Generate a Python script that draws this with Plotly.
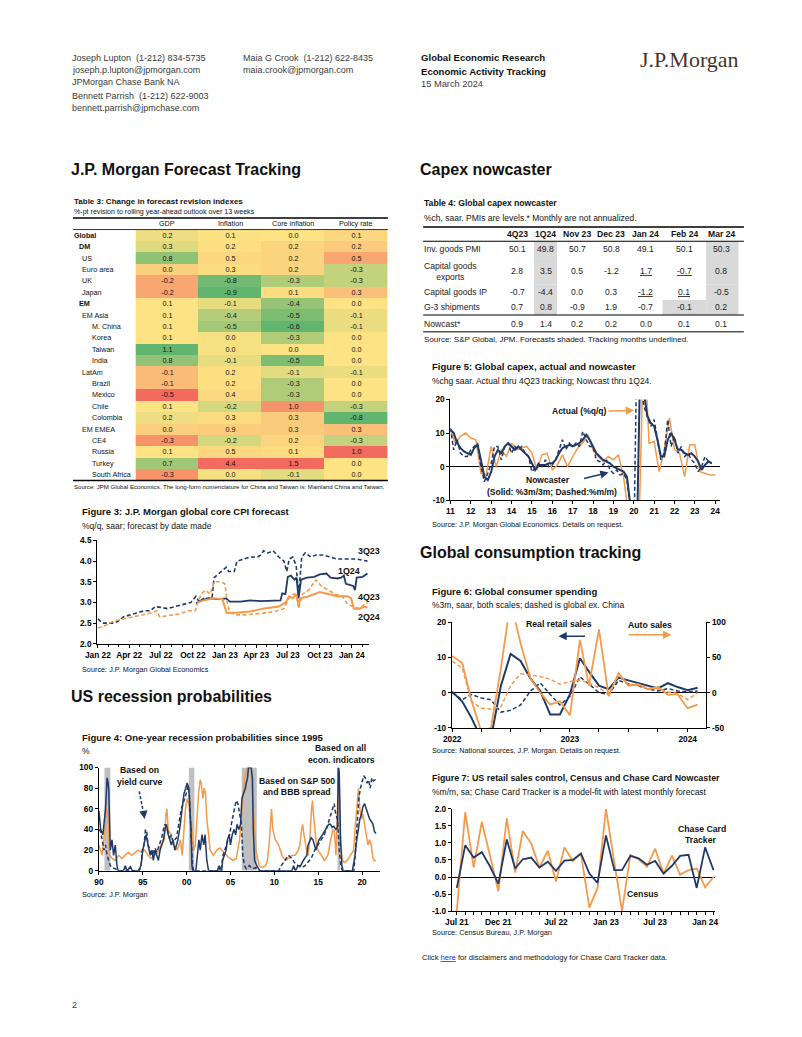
import numpy as np
import pandas as pd
import plotly.graph_objects as go

# ======================= DATA =======================
# Table 3
t3_rows = ["Global", "DM", "US", "Euro area", "UK", "Japan", "EM", "EM Asia", "M. China", "Korea",
           "Taiwan", "India", "LatAm", "Brazil", "Mexico", "Chile", "Colombia", "EM EMEA", "CE4",
           "Russia", "Turkey", "South Africa"]
t3_cols = ["GDP", "Inflation", "Core inflation", "Policy rate"]
t3_gdp = [0.2, 0.3, 0.8, 0.0, -0.2, -0.2, 0.1, 0.1, 0.1, 0.1, 1.1, 0.8, -0.1, -0.1, -0.5, 0.1, 0.2, 0.0, -0.3, 0.1, 0.7, -0.3]
t3_inflation = [0.1, 0.2, 0.5, 0.3, -0.8, -0.9, -0.1, -0.4, -0.5, 0.0, 0.0, -0.1, 0.2, 0.2, 0.4, -0.2, 0.3, 0.9, -0.2, 0.5, 4.4, 0.0]
t3_core = [0.0, 0.2, 0.2, 0.2, -0.3, 0.1, -0.4, -0.5, -0.6, -0.3, 0.0, -0.5, -0.1, -0.3, -0.3, 1.0, 0.3, 0.3, 0.2, 0.1, 1.5, -0.1]
t3_policy = [0.1, 0.2, 0.5, -0.3, -0.3, 0.3, 0.0, -0.1, -0.1, 0.0, 0.0, 0.0, -0.1, 0.0, 0.0, -0.3, -0.8, 0.3, -0.3, 1.0, 0.0, 0.0]
t3_level = [0, 1, 2, 2, 2, 2, 1, 2, 3, 3, 3, 3, 2, 3, 3, 3, 3, 2, 3, 3, 3, 3]

# Table 4
t4_cols = ["4Q23", "1Q24", "Nov 23", "Dec 23", "Jan 24", "Feb 24", "Mar 24"]
t4_rows = ["Inv. goods PMI", "Capital goods<br>exports", "Capital goods IP", "G-3 shipments", "Nowcast*"]
t4_pmi = [50.1, 49.8, 50.7, 50.8, 49.1, 50.1, 50.3]
t4_exports = [2.8, 3.5, 0.5, -1.2, 1.7, -0.7, 0.8]
t4_ip = [-0.7, -4.4, 0.0, 0.3, -1.2, 0.1, -0.5]
t4_g3 = [0.7, 0.8, -0.9, 1.9, -0.7, -0.1, 0.2]
t4_nowcast = [0.9, 1.4, 0.2, 0.2, 0.0, 0.1, 0.1]
t4_shaded = [(0, 1), (1, 1), (2, 1), (3, 1), (0, 6), (1, 6), (2, 6), (3, 6), (3, 5)]
t4_underlined = [(1, 4), (1, 5), (2, 4), (2, 5)]

# Figure 3: core CPI forecasts by date made
f3_3q23 = [("2022-01-01", 2.6), ("2022-01-15", 2.5), ("2022-02-15", 2.5), ("2022-03-01", 2.55), ("2022-03-15", 2.65),
           ("2022-04-05", 2.7), ("2022-04-25", 2.75), ("2022-05-15", 2.8), ("2022-06-01", 2.8), ("2022-06-15", 2.9),
           ("2022-07-01", 2.88), ("2022-07-20", 2.85), ("2022-08-10", 2.9), ("2022-09-05", 2.95), ("2022-09-25", 3.0),
           ("2022-10-10", 3.15), ("2022-10-20", 3.0), ("2022-11-01", 3.1), ("2022-11-25", 3.1), ("2022-12-01", 3.6),
           ("2022-12-15", 3.7), ("2023-01-05", 3.85), ("2023-01-12", 3.75), ("2023-01-28", 3.75), ("2023-02-05", 4.0),
           ("2023-02-25", 4.05), ("2023-03-15", 4.1), ("2023-04-05", 4.1), ("2023-04-15", 4.15), ("2023-04-22", 4.25),
           ("2023-05-05", 4.2), ("2023-05-20", 4.25), ("2023-06-05", 4.1), ("2023-06-20", 4.0), ("2023-06-28", 3.75),
           ("2023-07-05", 4.05), ("2023-07-15", 4.1), ("2023-07-25", 3.9), ("2023-08-01", 3.15), ("2023-08-10", 4.1),
           ("2023-08-20", 4.2), ("2023-09-05", 4.1), ("2023-09-20", 4.15), ("2023-10-10", 4.15), ("2023-11-01", 4.1),
           ("2023-11-20", 4.05), ("2023-12-15", 4.05), ("2024-01-15", 4.05), ("2024-02-15", 4.0)]
f3_1q24 = [("2022-10-10", 2.98), ("2022-10-25", 3.05), ("2022-11-15", 3.1), ("2022-12-15", 3.08), ("2023-01-05", 3.1),
           ("2023-01-15", 3.02), ("2023-02-15", 3.02), ("2023-03-15", 3.05), ("2023-04-15", 3.03), ("2023-05-15", 3.05),
           ("2023-06-10", 3.05), ("2023-06-15", 3.22), ("2023-06-24", 3.2), ("2023-07-01", 3.62), ("2023-07-10", 3.65),
           ("2023-07-20", 3.55), ("2023-07-26", 3.6), ("2023-08-01", 3.1), ("2023-08-08", 3.55), ("2023-08-25", 3.6),
           ("2023-09-15", 3.62), ("2023-10-01", 3.68), ("2023-10-20", 3.7), ("2023-11-01", 3.6), ("2023-11-20", 3.58),
           ("2023-12-01", 3.6), ("2023-12-09", 3.65), ("2023-12-15", 3.45), ("2024-01-05", 3.4), ("2024-01-10", 3.3),
           ("2024-01-15", 3.6), ("2024-02-01", 3.62), ("2024-02-15", 3.7)]
f3_4q23 = [("2022-01-01", 2.38), ("2022-01-25", 2.45), ("2022-02-15", 2.55), ("2022-03-10", 2.6), ("2022-04-10", 2.65),
           ("2022-05-10", 2.7), ("2022-06-05", 2.75), ("2022-06-20", 2.8), ("2022-06-28", 2.65), ("2022-07-20", 2.68),
           ("2022-08-20", 2.72), ("2022-09-20", 2.8), ("2022-10-08", 2.8), ("2022-10-15", 3.0), ("2022-10-25", 3.2),
           ("2022-11-05", 3.3), ("2022-11-20", 3.2), ("2022-12-01", 3.5), ("2022-12-20", 3.5), ("2023-01-01", 3.45),
           ("2023-01-08", 3.0), ("2023-01-15", 2.75), ("2023-02-05", 2.7), ("2023-03-01", 2.7), ("2023-04-01", 2.72),
           ("2023-05-01", 2.75), ("2023-06-01", 2.8), ("2023-06-20", 2.85), ("2023-07-01", 3.05), ("2023-07-15", 3.2),
           ("2023-07-25", 3.2), ("2023-08-01", 2.85), ("2023-08-12", 3.2), ("2023-08-30", 3.3), ("2023-09-20", 3.55),
           ("2023-10-05", 3.4), ("2023-10-25", 3.3), ("2023-11-15", 3.2), ("2023-12-05", 3.15), ("2023-12-20", 2.95),
           ("2024-01-05", 2.9), ("2024-01-25", 2.85), ("2024-02-05", 2.95), ("2024-02-15", 3.0)]
f3_2q24 = [("2022-10-15", 3.0), ("2022-11-01", 3.05), ("2022-12-01", 3.1), ("2022-12-25", 3.08), ("2023-01-06", 2.75),
           ("2023-02-01", 2.75), ("2023-03-15", 2.78), ("2023-04-20", 2.85), ("2023-06-05", 2.9), ("2023-06-25", 3.0),
           ("2023-07-05", 3.15), ("2023-07-15", 3.1), ("2023-07-25", 3.2), ("2023-08-01", 2.95), ("2023-08-06", 3.1),
           ("2023-08-30", 3.15), ("2023-10-01", 3.25), ("2023-10-25", 3.2), ("2023-11-20", 3.15), ("2023-12-20", 3.15),
           ("2023-12-30", 3.1), ("2024-01-07", 2.85), ("2024-01-25", 2.85), ("2024-02-05", 2.9), ("2024-02-15", 2.88)]
f3_ticks = ["2022-01-01", "2022-04-01", "2022-07-01", "2022-10-01", "2023-01-01", "2023-04-01", "2023-07-01", "2023-10-01", "2024-01-01"]
f3_ticktext = ["Jan 22", "Apr 22", "Jul 22", "Oct 22", "Jan 23", "Apr 23", "Jul 23", "Oct 23", "Jan 24"]

# Figure 4: recession probabilities (x in chart years)
f4_econ = [(1990.0, 58), (1990.2, 40), (1990.45, 35), (1990.65, 55), (1990.75, 60), (1990.93, 90), (1991.05, 85), (1991.12, 78),
           (1991.3, 20), (1991.49, 30), (1991.67, 15), (1991.86, 25), (1992.05, 5), (1992.2, 0), (1992.8, 0), (1993.0, 5),
           (1993.2, 0), (1993.6, 4), (1993.8, 0), (1994.5, 0), (1994.8, 5), (1995.0, 20), (1995.22, 30), (1995.37, 35),
           (1995.6, 25), (1995.85, 15), (1996.05, 20), (1996.2, 10), (1996.4, 20), (1996.6, 15), (1996.78, 10), (1996.97, 20),
           (1997.15, 25), (1997.35, 30), (1997.53, 40), (1997.7, 45), (1997.9, 35), (1998.1, 30), (1998.26, 25), (1998.45, 30),
           (1998.65, 20), (1998.85, 25), (1999.0, 30), (1999.2, 40), (1999.4, 55), (1999.6, 65), (1999.7, 75), (1999.9, 80),
           (2000.06, 85), (2000.25, 80), (2000.4, 60), (2000.5, 40), (2000.6, 5), (2000.7, 0), (2001.05, 0), (2001.2, 15),
           (2001.4, 30), (2001.55, 20), (2001.75, 35), (2001.95, 25), (2002.1, 35), (2002.3, 10), (2002.5, 0), (2003.5, 0),
           (2003.7, 5), (2003.85, 0), (2004.0, 0), (2004.1, 10), (2004.3, 15), (2004.5, 20), (2004.65, 30), (2004.85, 35),
           (2005.0, 25), (2005.2, 35), (2005.4, 40), (2005.6, 35), (2005.75, 45), (2005.95, 40), (2006.15, 45), (2006.3, 70),
           (2006.5, 75), (2006.7, 80), (2006.8, 85), (2006.95, 90), (2007.05, 100), (2007.35, 100), (2007.5, 90), (2007.6, 40),
           (2007.75, 10), (2008.0, 5), (2008.35, 0), (2012.0, 0), (2012.2, 5), (2012.4, 0), (2012.7, 5), (2013.0, 5),
           (2013.3, 10), (2013.7, 15), (2013.85, 25), (2014.05, 30), (2014.2, 32), (2014.4, 30), (2014.55, 25), (2014.75, 20),
           (2014.9, 25), (2015.1, 30), (2015.5, 35), (2015.85, 40), (2016.2, 45), (2016.4, 45), (2016.6, 42), (2016.8, 43),
           (2017.0, 40), (2017.2, 42), (2017.3, 100), (2017.4, 95), (2017.55, 30), (2017.7, 5), (2017.85, 0), (2018.9, 0),
           (2019.0, 5), (2019.2, 15), (2019.4, 30), (2019.56, 40), (2019.75, 50), (2019.94, 55), (2020.1, 62), (2020.3, 65),
           (2020.5, 60), (2020.7, 55), (2020.87, 50), (2021.05, 48), (2021.25, 45), (2021.42, 38), (2021.6, 36)]
f4_yield = [(1990.0, 40), (1990.2, 38), (1990.37, 30), (1990.56, 20), (1990.75, 25), (1990.93, 15), (1991.12, 10), (1991.3, 5),
            (1991.5, 3), (1991.86, 2), (1992.2, 0), (1994.6, 0), (1994.8, 5), (1994.95, 20), (1995.15, 25), (1995.3, 40),
            (1995.45, 38), (1995.6, 25), (1995.85, 20), (1996.05, 15), (1996.2, 18), (1996.4, 22), (1996.6, 18), (1996.78, 22),
            (1996.97, 28), (1997.15, 32), (1997.35, 40), (1997.53, 45), (1997.7, 42), (1997.9, 35), (1998.1, 30), (1998.26, 35),
            (1998.45, 28), (1998.65, 30), (1998.85, 32), (1999.0, 40), (1999.2, 50), (1999.4, 60), (1999.6, 65), (1999.8, 70),
            (1999.95, 75), (2000.1, 80), (2000.2, 82), (2000.3, 75), (2000.45, 50), (2000.55, 20), (2000.67, 5), (2000.8, 0),
            (2003.8, 0), (2004.0, 5), (2004.15, 15), (2004.35, 20), (2004.55, 25), (2004.7, 30), (2004.9, 35), (2005.1, 45),
            (2005.3, 55), (2005.5, 62), (2005.65, 68), (2005.85, 65), (2006.05, 55), (2006.25, 45), (2006.4, 15), (2006.6, 5),
            (2006.8, 2), (2007.15, 5), (2007.5, 2), (2007.9, 3), (2008.25, 0), (2010.5, 0), (2010.8, 5), (2011.2, 10),
            (2011.6, 15), (2012.0, 12), (2012.3, 8), (2012.7, 5), (2013.1, 3), (2013.5, 5), (2013.85, 8), (2014.2, 12),
            (2014.6, 20), (2014.97, 25), (2015.35, 30), (2015.7, 35), (2016.1, 45), (2016.46, 55), (2016.65, 60), (2016.83, 65),
            (2017.0, 55), (2017.2, 50), (2017.4, 20), (2017.58, 5), (2017.75, 0), (2019.07, 0), (2019.26, 20), (2019.44, 50),
            (2019.63, 70), (2019.82, 80), (2020.0, 85), (2020.19, 92), (2020.38, 90), (2020.56, 85), (2020.75, 88), (2020.93, 80),
            (2021.12, 90), (2021.3, 87), (2021.5, 88), (2021.68, 86)]
f4_markets = [(1990.0, 25), (1990.2, 20), (1990.37, 15), (1990.56, 30), (1990.75, 50), (1990.86, 60), (1991.0, 55), (1991.12, 30),
              (1991.23, 15), (1991.5, 12), (1991.86, 10), (1992.25, 15), (1992.6, 12), (1992.98, 15), (1993.35, 18), (1993.73, 15),
              (1994.1, 18), (1994.47, 20), (1994.85, 18), (1995.2, 20), (1995.6, 15), (1995.97, 12), (1996.34, 15), (1996.72, 18),
              (1997.09, 25), (1997.46, 30), (1997.64, 55), (1997.75, 60), (1997.9, 40), (1998.2, 35), (1998.57, 25), (1998.94, 20),
              (1999.3, 30), (1999.5, 15), (1999.7, 40), (1999.87, 60), (2000.06, 70), (2000.25, 65), (2000.43, 50), (2000.6, 40),
              (2000.8, 20), (2000.99, 25), (2001.17, 50), (2001.36, 75), (2001.55, 88), (2001.66, 85), (2001.85, 70), (2002.0, 80),
              (2002.15, 75), (2002.3, 50), (2002.5, 35), (2002.68, 20), (2003.05, 15), (2003.43, 20), (2003.8, 22), (2004.17, 18),
              (2004.54, 15), (2004.92, 12), (2005.29, 10), (2005.66, 12), (2006.04, 30), (2006.22, 50), (2006.41, 70), (2006.6, 90),
              (2006.78, 95), (2006.97, 100), (2007.34, 100), (2007.52, 70), (2007.71, 40), (2007.9, 20), (2008.27, 5), (2008.64, 3),
              (2009.0, 5), (2009.2, 10), (2009.4, 25), (2009.57, 55), (2009.68, 60), (2009.83, 40), (2010.13, 30), (2010.5, 25),
              (2010.7, 20), (2010.87, 15), (2011.25, 10), (2011.62, 12), (2011.99, 15), (2012.37, 15), (2012.74, 20), (2012.9, 25),
              (2013.11, 40), (2013.23, 45), (2013.38, 35), (2013.67, 20), (2013.86, 15), (2014.05, 30), (2014.24, 60), (2014.35, 68),
              (2014.46, 55), (2014.6, 40), (2014.8, 25), (2014.98, 20), (2015.35, 15), (2015.73, 10), (2016.1, 15), (2016.47, 30),
              (2016.66, 40), (2016.85, 38), (2017.03, 15), (2017.2, 60), (2017.28, 100), (2017.4, 80), (2017.55, 30), (2017.75, 10),
              (2017.95, 8), (2018.3, 10), (2018.7, 15), (2019.04, 20), (2019.2, 40), (2019.4, 60), (2019.5, 65), (2019.6, 80),
              (2019.75, 60), (2019.94, 50), (2020.1, 55), (2020.3, 45), (2020.5, 35), (2020.68, 25), (2020.87, 30), (2021.05, 25),
              (2021.25, 12), (2021.42, 10), (2021.6, 10)]
f4_recessions = [(1990.63, 1991.30), (2000.25, 2000.88), (2006.29, 2008.0), (2017.2, 2017.5)]
f4_ticks = [1990, 1995, 2000, 2005, 2010, 2015, 2020]
f4_ticktext = ["90", "95", "00", "05", "10", "15", "20"]

# Figure 5: capex actual (quarterly from 1Q11) and nowcaster (every 2 months from Jan 11)
f5_actual = [11, 7, 9, 10, 8.5, 8, -2, -2.5, 6, 0, 5, 3, 7, 5, 5.5, 6, 4, -1, 3.5, 4, -1, 0.5, 3.5, 0, 3, 5.5, 7,
             9.5, 5, 3, 1.5, 3, 2, 3.5, -3, -15, -25, -20, 40, 7, 7.5, -1.5, 5, 14.5, 5, 4, -3, 6.5, 6.5, -1.5, -2, -2.5, -2.5]
f5_3m3m = [11, 10, 7, 5.5, 4.5, 4, 3.5, 5.5, 6.5, 2, -3, -4, -1.5, 3, 5, 4, 6, 7, 6, 5, 6, 5, 4, 3, 1, -1, 0.5, 0.5,
           0.5, 1, 1, 2, 4, 5.5, 6, 6.5, 6, 6.5, 7, 8, 9.5, 8, 6, 4, 3, 2, 1.5, 1, 0, -0.5, -1, -1.5, -3, -10, -20, -18,
           35, 22, 15, 13, 12, 8, 3, 3, 8, 10, 8, 5, 5, 4, 3.5, 4, 3, 1.5, -1, 0.5, 1.5, 1]
f5_mm = [11.5, 5, 8, 4, 3, 3, 5, 6, 7, 0, -4.5, -2, 1, 6, 6, 2, 6, 7, 4, 6, 5, 6, 4, 3, -1.5, -0.5, 1, 0, 2, 0,
         0.5, 2, 5, 8, 5, 7, 6, 7, 6, 10.5, 8, 6, 6, 2, 1.5, 0.5, 2, -1, -2, -1, -2.5, -2, -4, -12, -25, 40, 25, 18,
         15, 12, 14, 8, 2, 4, 14, 6, 9, 4, 6, 3, 4, 2, 1, -1.5, 0, 3, 1.5, 1]
f5_years = list(range(2011, 2025))

# Figure 6: consumer spending, monthly Jan 2022 - Feb 2024
f6_retail = [0.3, -2.5, -7, -13, -13, 2, 11, 9, 4, 0.5, -6.2, -6.2, -0.5, 9.8, 6, 2, 1, 4.3, 3.5, 2.8, 2, 1.2, 2.7, 1.6, 0.7, 1.4]
f6_retail_xchina = [0, -2, -0.5, -1.5, -2, -5.5, -5, -3.5, 0.5, 2.8, -0.5, -3.5, -1, 4.5, 2.5, 0, -0.5, 3.5, 2.5, 2, 1, 0.5, 1.2, 0.5, 0.2, 0.5]
f6_auto = [52, 42, -10, -55, -50, 35, 130, 70, 20, 0, -17, -12, -32, 75, 10, 90, -5, 28, 10, 12, 5, 8, -3, -2, -22, -17]
f6_auto_xchina = [45, 35, -12, -22, -23, -20, 10, 27, 25, 23, 19, 12, 16, 18, 14, 7, -2, 25, 12, 10, 6, 6, 1, -1, -10, 0]

# Figure 7: US retail sales control, monthly Jul 2021 - Feb 2024
f7_chase = [-0.32, 0.93, 0.57, 0.73, 0.3, -0.2, 1.1, 0.25, 0.52, 0.57, 0.28, 0.45, 0.18, 0.48, 0.5, 0.69, 0.1, -0.17,
            1.22, 0.2, 0.2, 0.62, 0.55, 0.36, 0.47, 0.1, 0.33, 0.62, 0.65, -0.32, 0.87, 0.2]
f7_census = [-1.0, 1.9, 0.28, 1.62, 0.6, -0.42, 1.72, 0.13, 1.35, 0.98, 0.28, 0.77, -0.13, 0.87, 0.47, 0.68, -0.9, -0.32,
             2.0, 0.45, -1.0, 0.65, 0.52, 0.3, 0.83, 0.1, 0.63, 0.07, 0.2, 0.25, -0.3, 0.0]
f7_ticks = ["2021-07-01", "2021-12-01", "2022-07-01", "2023-01-01", "2023-07-01", "2024-01-01"]
f7_ticktext = ["Jul 21", "Dec 21", "Jul 22", "Jan 23", "Jul 23", "Jan 24"]

# ======================= STYLE / LAYOUT =======================
# The page body keeps the browser's default 8px margin, so the figure is made
# 16px narrower/shorter than the window and page positions are offset by 8px.
PAGE_MARGIN = 8
W, H = 802 - 2 * PAGE_MARGIN, 1037 - 2 * PAGE_MARGIN
FONT = "Liberation Sans, Arial, Helvetica, sans-serif"
SERIF = "Liberation Serif, Times New Roman, serif"
NAVY = "#1F3A68"
ORANGE = "#F5994A"
INK = "#111111"
GREY_TXT = "#3a3a3a"
RED, YEL, GRN = "#F26B5E", "#FDE383", "#62B56F"
DASH = "4px,2.5px"


def px(x):
    return (x - PAGE_MARGIN) / W


def py(y):
    return 1 - (y - PAGE_MARGIN) / H


def dom_x(a, b):
    return [px(a), px(b)]


def dom_y(top, bottom):
    return [py(bottom), py(top)]


ann = []
shapes = []


def txt(s, x, y, size, bold=False, color=INK, xanchor="left", yanchor="middle", xref="paper", yref="paper", family=FONT):
    if bold:
        s = "<b>" + s + "</b>"
    ann.append(dict(text=s, x=px(x) if xref == "paper" else x, y=py(y) if yref == "paper" else y,
                    xref=xref, yref=yref, xanchor=xanchor, yanchor=yanchor, showarrow=False,
                    font=dict(family=family, size=size, color=color), borderpad=0))


def arrow(x0, y0, x1, y1, color, width=1.3):
    ann.append(dict(text="", x=px(x1), y=py(y1), xref="paper", yref="paper", ax=x0 - x1, ay=y0 - y1,
                    showarrow=True, arrowhead=2, arrowsize=1.1, arrowwidth=width, arrowcolor=color,
                    standoff=0, startstandoff=0))


def hline(x0, x1, y, width=1, color="black"):
    shapes.append(dict(type="line", xref="paper", yref="paper", x0=px(x0), x1=px(x1), y0=py(y), y1=py(y),
                       line=dict(color=color, width=width)))


def fmt(v):
    return f"{v:.1f}"


def axstyle(**kw):
    d = dict(showgrid=False, zeroline=False, showline=True, linecolor="black", linewidth=1,
             ticks="outside", ticklen=3, tickcolor="black", tickwidth=1,
             tickfont=dict(family=FONT, size=8.3, color="black", weight="bold"), fixedrange=True)
    d.update(kw)
    return d


fig = go.Figure()

# ---------------- Header ----------------
hdr = 9
txt("Joseph Lupton  (1-212) 834-5735", 60, 53, hdr, color=GREY_TXT)
txt("joseph.p.lupton@jpmorgan.com", 60, 65.5, hdr, color=GREY_TXT)
txt("JPMorgan Chase Bank NA", 60, 77.5, hdr, color=GREY_TXT)
txt("Bennett Parrish  (1-212) 622-9003", 60, 91.5, hdr, color=GREY_TXT)
txt("bennett.parrish@jpmchase.com", 60, 103.5, hdr, color=GREY_TXT)
txt("Maia G Crook  (1-212) 622-8435", 234, 53, hdr, color=GREY_TXT)
txt("maia.crook@jpmorgan.com", 234, 65.5, hdr, color=GREY_TXT)
txt("Global Economic Research", 416, 53, 9.6, bold=True)
txt("Economic Activity Tracking", 416, 67, 9.6, bold=True)
txt("15 March 2024", 416, 80, 9.3, color=GREY_TXT)
txt("J.P.Morgan", 639, 55, 22, color="#45362c", family=SERIF)

# ---------------- Section titles ----------------
txt("J.P. Morgan Forecast Tracking", 59, 166, 16, bold=True)
txt("Capex nowcaster", 415, 166, 16, bold=True)
txt("US recession probabilities", 59, 698, 16, bold=True)
txt("Global consumption tracking", 415, 553, 16, bold=True)

# ---------------- Table 3 (heatmap, colour scale per column) ----------------
txt("Table 3: Change in forecast revision indexes", 62, 198, 8, bold=True)
txt("%-pt revision to rolling year-ahead outlook over 13 weeks", 62, 208.5, 7.1)
hline(62, 383, 215, 1.5)
hline(62, 383, 226.7, 0.8)
hline(62, 383, 480, 1.5)
for c in t3_cols:
    txt(c, c, 220.8, 7.2, xanchor="center", xref="x")


def col_score(vals, high_good):
    # Excel-style 3-colour scale: min -> red, median -> yellow, max -> green (or reversed)
    v = np.array(vals, dtype=float)
    lo, hi, med = v.min(), v.max(), np.median(v)
    s = np.where(v >= med, 0.5 + 0.5 * (v - med) / (hi - med), 0.5 * (v - lo) / (med - lo))
    return s if high_good else 1 - s


t3_columns = [t3_gdp, t3_inflation, t3_core, t3_policy]
t3_high_good = [True, False, False, False]
t3_z = np.column_stack([col_score(v, g) for v, g in zip(t3_columns, t3_high_good)])
t3_text = [[fmt(col[i]) for col in t3_columns] for i in range(len(t3_rows))]
fig.add_trace(go.Heatmap(
    z=t3_z, x=t3_cols, y=t3_rows, zmin=0, zmax=1,
    colorscale=[[0, RED], [0.5, YEL], [1, GRN]], showscale=False,
    text=t3_text, texttemplate="%{text}", textfont=dict(family=FONT, size=7.2, color=INK),
    xaxis="x", yaxis="y", hoverinfo="skip"))

indent_px = {0: 62.5, 1: 67.5, 2: 70.5, 3: 80}
for name, lvl in zip(t3_rows, t3_level):
    txt(name, indent_px[lvl], name, 7.2, bold=(lvl <= 1), xref="paper", yref="y")
txt("Source: JPM Global Economics. The long-form nomenclature for China and Taiwan is: Mainland China and Taiwan.",
    62, 486, 6.1)

# ---------------- Table 4 ----------------
txt("Table 4: Global capex nowcaster", 419, 200, 8.6, bold=True)
txt("%ch, saar. PMIs are levels.* Monthly are not annualized.", 419, 215.5, 8.5)
t4_col_x = [515, 544, 576, 611, 646, 685, 723]
t4_col_edges = [(498, 532), (532, 555.5), (556, 595), (595, 628), (628, 663), (663, 707.5), (707.5, 740.5)]
t4_row_y = [246.8, 269, 289.8, 305, 321.7]
t4_row_edges = [(238.5, 255.5), (255.5, 282), (282, 297.8), (297.8, 313), (313, 330)]
for (r, c) in t4_shaded:
    shapes.append(dict(type="rect", xref="paper", yref="paper", layer="below",
                       x0=px(t4_col_edges[c][0]), x1=px(t4_col_edges[c][1]),
                       y0=py(t4_row_edges[r][1]), y1=py(t4_row_edges[r][0]),
                       fillcolor="#D9D9D9", line=dict(width=0)))
hline(419, 746, 224, 1.5)
hline(419, 746, 238.5, 1.2)
hline(419, 746, 313, 1)
hline(419, 746, 330, 1)
for c, xc in zip(t4_cols, t4_col_x):
    txt(c, xc, 231.5, 8.6, bold=True, xanchor="center")
t4_data = [t4_pmi, t4_exports, t4_ip, t4_g3, t4_nowcast]
for r, (lab, vals) in enumerate(zip(t4_rows, t4_data)):
    txt(lab, 419, t4_row_y[r], 8.6, color="#222")
    for c, v in enumerate(vals):
        s = fmt(v)
        if (r, c) in t4_underlined:
            s = "<u>" + s + "</u>"
        txt(s, t4_col_x[c], t4_row_y[r], 8.6, color="#222", xanchor="center")
txt("Source: S&amp;P Global, JPM. Forecasts shaded. Tracking months underlined.", 419, 337.5, 8)

# ---------------- Figure 3 ----------------
txt("Figure 3: J.P. Morgan global core CPI forecast", 70, 511.7, 9.5, bold=True)
txt("%q/q, saar; forecast by date made", 70, 526, 8.5)
for data, color, dash, wdt in [(f3_3q23, NAVY, DASH, 1.6), (f3_1q24, NAVY, "solid", 1.8),
                               (f3_4q23, ORANGE, DASH, 1.6), (f3_2q24, ORANGE, "solid", 2.0)]:
    xs, ys = zip(*data)
    fig.add_trace(go.Scatter(x=list(xs), y=list(ys), mode="lines", line=dict(color=color, width=wdt, dash=dash),
                             xaxis="x2", yaxis="y2", hoverinfo="skip"))
txt("3Q23", 364, 551.7, 8.9, bold=True, xanchor="center")
txt("1Q24", 343, 571.7, 8.9, bold=True, xanchor="center")
txt("4Q23", 364, 597.3, 8.9, bold=True, xanchor="center")
txt("2Q24", 364, 618.3, 8.9, bold=True, xanchor="center")
txt("Source: J.P. Morgan Global Economics", 70, 670.7, 7.3)

# ---------------- Figure 4 ----------------
txt("Figure 4: One-year recession probabilities since 1995", 70, 739.3, 9.5, bold=True)
txt("%", 70, 753, 8.5)
for (a, b) in f4_recessions:
    shapes.append(dict(type="rect", xref="x3", yref="y3", x0=a, x1=b, y0=0, y1=100, layer="below",
                       fillcolor="#BFBFBF", line=dict(width=0)))
for data, color, dash in [(f4_markets, ORANGE, "solid"), (f4_yield, NAVY, DASH), (f4_econ, NAVY, "solid")]:
    xs, ys = zip(*data)
    fig.add_trace(go.Scatter(x=list(xs), y=list(ys), mode="lines", line=dict(color=color, width=1.5, dash=dash),
                             xaxis="x3", yaxis="y3", hoverinfo="skip"))
txt("Based on", 130.3, 772.7, 8.7, bold=True, xanchor="center")
txt("yield curve", 130.7, 785, 8.7, bold=True, xanchor="center")
txt("Based on all", 335, 750, 8.7, bold=True, xanchor="center")
txt("econ. indicators", 335.7, 762.3, 8.7, bold=True, xanchor="center")
txt("Based on S&amp;P 500", 290, 783.3, 8.7, bold=True, xanchor="center")
txt("and BBB spread", 290.7, 795, 8.7, bold=True, xanchor="center")
shapes.append(dict(type="line", xref="paper", yref="paper", x0=px(129.5), y0=py(794), x1=px(134), y1=py(816),
                   line=dict(color=NAVY, width=1.5, dash="3px,2px")))
arrow(134, 815, 135, 822, NAVY, 1.5)
txt("Source: J.P. Morgan", 70, 898.3, 7.3)

# ---------------- Figure 5 ----------------
txt("Figure 5: Global capex, actual and nowcaster", 426.7, 365, 9.5, bold=True)
txt("%chg saar. Actual thru 4Q23 tracking; Nowcast thru 1Q24.", 426.7, 379.3, 8.5)
f5_q_dates = pd.date_range("2011-01-01", periods=len(f5_actual), freq="QS")
f5_m_dates = pd.date_range("2011-01-01", periods=len(f5_3m3m), freq="2MS")
fig.add_trace(go.Scatter(x=f5_q_dates, y=f5_actual, mode="lines", line=dict(color=ORANGE, width=1.5),
                         xaxis="x4", yaxis="y4", hoverinfo="skip"))
fig.add_trace(go.Scatter(x=f5_m_dates, y=f5_mm, mode="lines", line=dict(color=NAVY, width=1.5, dash=DASH),
                         xaxis="x4", yaxis="y4", hoverinfo="skip"))
fig.add_trace(go.Scatter(x=f5_m_dates, y=f5_3m3m, mode="lines", line=dict(color=NAVY, width=2),
                         xaxis="x4", yaxis="y4", hoverinfo="skip"))
txt("Actual (%q/q)", 578.3, 410, 8.5, bold=True, xanchor="center")
arrow(607, 410, 634, 409.5, ORANGE, 1.5)
txt("Nowcaster", 546.7, 480, 8.5, bold=True, xanchor="center")
txt("(Solid: %3m/3m; Dashed:%m/m)", 550, 491.7, 8.5, bold=True, xanchor="center")
arrow(582, 478.5, 608, 472, NAVY, 1.5)
txt("Source: J.P. Morgan Global Economics. Details on request.", 426.7, 525, 7.3)

# ---------------- Figure 6 ----------------
txt("Figure 6: Global consumer spending", 426.7, 592.7, 9.5, bold=True)
txt("%3m, saar, both scales; dashed is global ex. China", 426.7, 606, 8.5)
f6_dates = pd.date_range("2022-01-01", periods=len(f6_retail), freq="MS")
fig.add_trace(go.Scatter(x=f6_dates, y=f6_auto_xchina, mode="lines", line=dict(color=ORANGE, width=1.5, dash=DASH),
                         xaxis="x5", yaxis="y6", hoverinfo="skip"))
fig.add_trace(go.Scatter(x=f6_dates, y=f6_auto, mode="lines", line=dict(color=ORANGE, width=1.8),
                         xaxis="x5", yaxis="y6", hoverinfo="skip"))
fig.add_trace(go.Scatter(x=f6_dates, y=f6_retail_xchina, mode="lines", line=dict(color=NAVY, width=1.5, dash=DASH),
                         xaxis="x5", yaxis="y5", hoverinfo="skip"))
fig.add_trace(go.Scatter(x=f6_dates, y=f6_retail, mode="lines", line=dict(color=NAVY, width=2),
                         xaxis="x5", yaxis="y5", hoverinfo="skip"))
txt("Real retail sales", 557.5, 625, 8.7, bold=True, xanchor="center")
arrow(585, 637.3, 557, 637.3, NAVY, 1.5)
txt("Auto sales", 650, 626, 8.7, bold=True, xanchor="center")
arrow(628, 636, 672, 636, ORANGE, 1.5)
txt("Source: National sources, J.P. Morgan. Details on request.", 426.7, 752.7, 7.3)

# ---------------- Figure 7 ----------------
txt("Figure 7: US retail sales control, Census and Chase Card Nowcaster", 426.7, 780.7, 8.9, bold=True)
txt("%m/m, sa; Chase Card Tracker is a model-fit with latest monthly forecast", 426.7, 795, 8.5)
f7_dates = pd.date_range("2021-07-01", periods=len(f7_chase), freq="MS")
fig.add_trace(go.Scatter(x=f7_dates, y=f7_census, mode="lines", line=dict(color=ORANGE, width=1.8),
                         xaxis="x6", yaxis="y7", hoverinfo="skip"))
fig.add_trace(go.Scatter(x=f7_dates, y=f7_chase, mode="lines", line=dict(color=NAVY, width=1.8),
                         xaxis="x6", yaxis="y7", hoverinfo="skip"))
txt("Chase Card", 703.3, 831.7, 8.7, bold=True, xanchor="center")
txt("Tracker", 702.3, 842.7, 8.7, bold=True, xanchor="center")
txt("Census", 643.3, 897.7, 8.7, bold=True, xanchor="center")
txt("Source: Census Bureau, J.P. Morgan", 426.7, 936.7, 7.3)

# ---------------- Footer ----------------
txt("Click <a href='#' style='color:#1a1aff'><u>here</u></a> for disclaimers and methodology for Chase Card Tracker data.",
    416.5, 962, 7.6)
txt("2", 59.5, 1010, 9, color=GREY_TXT)

# ---------------- Axes ----------------
hidden = dict(visible=False, showgrid=False, zeroline=False, fixedrange=True)
layout_axes = dict(
    xaxis=dict(hidden, domain=dom_x(125.7, 383), anchor="y", type="category", categoryorder="array",
               categoryarray=t3_cols, range=[-0.5, 3.5]),
    yaxis=dict(hidden, domain=dom_y(226.7, 480), anchor="x", type="category", categoryorder="array",
               categoryarray=t3_rows, range=[len(t3_rows) - 0.5, -0.5]),
    xaxis2=axstyle(domain=dom_x(86.7, 363.3), anchor="y2", type="date", range=["2021-12-30", "2024-02-18"],
                   tickmode="array", tickvals=f3_ticks, ticktext=f3_ticktext,
                   minor=dict(dtick="M1", tick0="2022-01-01", ticks="outside", ticklen=2.5, tickcolor="black")),
    yaxis2=axstyle(domain=dom_y(540.7, 645), anchor="x2", range=[2.0, 4.5], tickmode="array",
                   tickvals=[2.0, 2.5, 3.0, 3.5, 4.0, 4.5], ticktext=["2.0", "2.5", "3.0", "3.5", "4.0", "4.5"]),
    xaxis3=axstyle(domain=dom_x(88.3, 375), anchor="y3", range=[1989.98, 2022.05], tickmode="array",
                   tickvals=f4_ticks, ticktext=f4_ticktext),
    yaxis3=axstyle(domain=dom_y(770, 874.3), anchor="x3", range=[0, 100], tickmode="array",
                   tickvals=[0, 20, 40, 60, 80, 100], ticktext=["0", "20", "40", "60", "80", "100"]),
    xaxis4=axstyle(domain=dom_x(446.7, 721.7), anchor="y4", type="date", range=["2010-12-30", "2024-03-28"],
                   tickmode="array", tickvals=[f"{y}-01-01" for y in f5_years],
                   ticktext=[f"{y % 100:02d}" for y in f5_years]),
    yaxis4=axstyle(domain=dom_y(398.3, 500), anchor="x4", range=[-10, 20], tickmode="array",
                   tickvals=[-10, 0, 10, 20], ticktext=["-10", "0", "10", "20"],
                   zeroline=True, zerolinecolor="black", zerolinewidth=1),
    xaxis5=axstyle(domain=dom_x(448.3, 707.7), anchor="y5", type="date", range=["2021-12-31", "2024-02-28"],
                   tickmode="array", tickvals=["2022-01-01", "2023-01-01", "2024-01-01"],
                   ticktext=["2022", "2023", "2024"],
                   minor=dict(dtick="M3", tick0="2022-01-01", ticks="outside", ticklen=3, tickcolor="black")),
    yaxis5=axstyle(domain=dom_y(623.3, 730), anchor="x5", range=[-10, 20], tickmode="array",
                   tickvals=[-10, 0, 10, 20], ticktext=["-10", "0", "10", "20"],
                   zeroline=True, zerolinecolor="black", zerolinewidth=1),
    yaxis6=axstyle(domain=dom_y(623.3, 730), anchor="x5", overlaying="y5", side="right", range=[-50, 100],
                   tickmode="array", tickvals=[-50, 0, 50, 100], ticktext=["-50", "0", "50", "100"]),
    xaxis6=axstyle(domain=dom_x(448.3, 716.7), anchor="y7", type="date", range=["2021-06-13", "2024-02-07"],
                   tickmode="array", tickvals=f7_ticks, ticktext=f7_ticktext,
                   minor=dict(dtick="M1", tick0="2021-07-01", ticks="outside", ticklen=2.5, tickcolor="black")),
    yaxis7=axstyle(domain=dom_y(811.7, 915), anchor="x6", range=[-1.0, 2.0], tickmode="array",
                   tickvals=[-1.0, -0.5, 0.0, 0.5, 1.0, 1.5, 2.0],
                   ticktext=["-1.0", "-0.5", "0.0", "0.5", "1.0", "1.5", "2.0"],
                   zeroline=True, zerolinecolor="black", zerolinewidth=1),
)

fig.update_layout(
    width=W, height=H, autosize=False,
    margin=dict(l=0, r=0, t=0, b=0, pad=0),
    paper_bgcolor="white", plot_bgcolor="rgba(0,0,0,0)",
    showlegend=False, font=dict(family=FONT, color=INK),
    annotations=ann, shapes=shapes, **layout_axes)

fig.write_html("out.html", include_plotlyjs=True, full_html=True,
               config={"displayModeBar": False, "staticPlot": True})
